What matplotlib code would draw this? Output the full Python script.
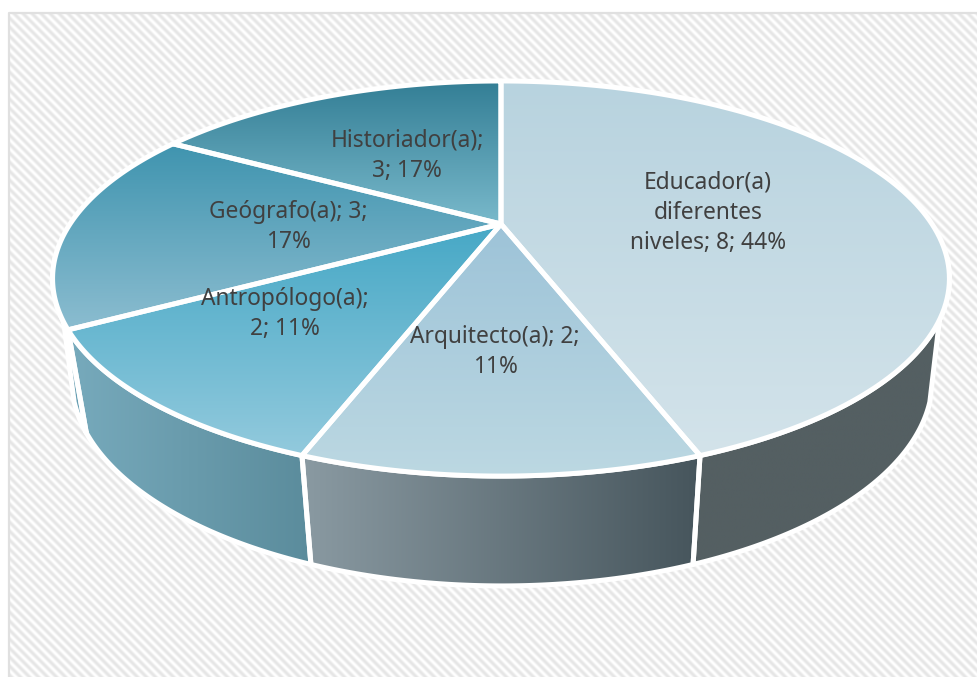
import matplotlib
matplotlib.use("Agg")
import matplotlib.pyplot as plt
import numpy as np
from matplotlib.colors import LinearSegmentedColormap
from matplotlib.patches import Polygon

plt.rcParams['font.family'] = ['Noto Sans', 'DejaVu Sans']

# datos del grafico, en sentido horario desde arriba
categorias = ['Educador(a)\ndiferentes\nniveles', 'Arquitecto(a)', 'Antropólogo(a)', 'Geógrafo(a)', 'Historiador(a)']
valores = [8, 2, 2, 3, 3]
porcentajes = [44, 11, 11, 17, 17]
plantillas = ['{c}; {v}; {p}%', '{c}; {v};\n{p}%', '{c};\n{v}; {p}%', '{c}; {v};\n{p}%', '{c};\n{v}; {p}%']
pos_etiquetas = [(708, 213), (495, 352), (285, 314), (288, 227), (407, 156)]

# colores (arriba, abajo) de cada porcion y (izq, der) de cada lado
col_tapa = [('#b8d3df', '#d3e3ea'), ('#9dc3d8', '#bcd8e2'), ('#46a8c6', '#93cadd'),
            ('#3f94af', '#8cbdd0'), ('#337e95', '#79b9cb')]
col_lado = [('#545f62', '#545f62'), ('#8a9aa2', '#46555c'), ('#77aabc', '#5b8c9c'), ('#5f97aa', '#6aa2b6')]

# proyeccion del disco
cx, cy = 501, 224
k, a, c = 431, 182.5, 0.276
esc_x, esc_y, prof, corr_x = 0.96, 1.047, 98, 1


def punto(t, abajo=False):
    t = np.radians(t)
    d = 1 + c * np.cos(t)
    x = k * np.sin(t) / d
    y = -a * np.cos(t) / d
    if abajo:
        return cx + corr_x + esc_x * x, cy + prof + esc_y * y
    return cx + x, cy + y


def relleno(ax, xy, c1, c2, vertical=True, z=2):
    xy = np.array(xy)
    pol = Polygon(xy, closed=True, fc='none', ec='white', lw=3.6, zorder=z + 0.1, joinstyle='round')
    ax.add_patch(pol)
    cmap = LinearSegmentedColormap.from_list('g', [c1, c2])
    grad = np.linspace(0, 1, 256)
    grad = grad[:, None] if vertical else grad[None, :]
    im = ax.imshow(grad, cmap=cmap, aspect='auto', zorder=z, interpolation='bilinear',
                   extent=(xy[:, 0].min(), xy[:, 0].max(), xy[:, 1].max(), xy[:, 1].min()))
    im.set_clip_path(pol)


fig = plt.figure(figsize=(9.78, 6.77), dpi=100)
ax = fig.add_axes([0, 0, 1, 1])

# fondo rayado
yy, xx = np.mgrid[0:665, 0:970]
rayas = 0.5 + 0.5 * np.cos(2 * np.pi * (xx - yy) / 9.0)
ax.imshow(rayas, cmap=LinearSegmentedColormap.from_list('f', ['#e6e6e6', '#ffffff']), aspect='auto',
          extent=(8, 978, 677, 12), zorder=0, interpolation='nearest')
ax.plot([9, 9, 978], [677, 13, 13], color='#e0e0e0', lw=1.6, zorder=1)

cortes = np.cumsum([0] + valores) / sum(valores) * 360

# lados, de atras hacia adelante: (inicio arriba, inicio abajo, fin arriba, fin abajo)
tramos = [(100, 112, cortes[1], cortes[1]), (cortes[1], cortes[1], cortes[2], cortes[2]),
          (cortes[2], cortes[2], cortes[3], cortes[3]), (cortes[3], cortes[3], 260, 248)]
for (t0, b0, t1, b1), (c1, c2) in reversed(list(zip(tramos, col_lado))):
    arriba = [punto(t) for t in np.linspace(t0, t1, 80)]
    abajo = [punto(t, True) for t in np.linspace(b1, b0, 80)]
    relleno(ax, arriba + abajo, c1, c2, vertical=False, z=2)

# tapa
for i in range(len(valores)):
    ts = np.linspace(cortes[i], cortes[i + 1], 120)
    xy = [(cx, cy)] + [punto(t) for t in ts]
    relleno(ax, xy, col_tapa[i][0], col_tapa[i][1], z=3)

for cat, v, p, pl, (x, y) in zip(categorias, valores, porcentajes, plantillas, pos_etiquetas):
    ax.text(x, y, pl.format(c=cat, v=v, p=p), ha='center', va='center', fontsize=16.4,
            color='#404040', linespacing=1.36, zorder=5)

ax.set_xlim(0, 978)
ax.set_ylim(677, 0)
ax.axis('off')
fig.savefig('out.png', dpi=100)
